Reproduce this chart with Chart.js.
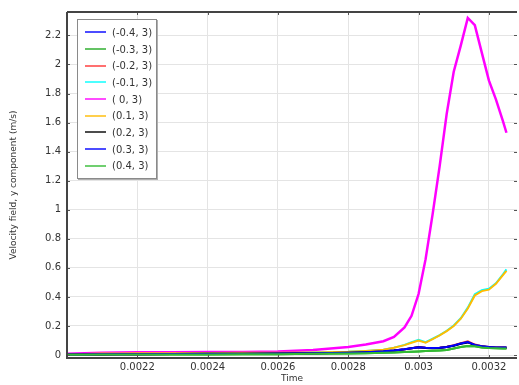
<!DOCTYPE html>
<html>
<head>
<meta charset="utf-8">
<script src="https://cdn.jsdelivr.net/npm/chart.js@4.4.0/dist/chart.umd.min.js"></script>
<style>
  body { margin: 0; background: #fff; }
  #wrap { position: relative; width: 519px; height: 385px; }
  #legend {
    position: absolute; left: 77px; top: 19px; width: 80px; height: 160px;
    background: #fff; border: 1px solid #8a8a8a; box-shadow: 1px 1px 0 #b0b0b0;
    font-family: "DejaVu Sans", sans-serif; font-size: 10px; color: #333;
    box-sizing: border-box; padding-top: 4px;
  }
  .item { height: 16.7px; display: flex; align-items: center; }
  .swatch { width: 21px; height: 2px; margin-left: 7px; margin-right: 6px; opacity: 0.7; }
</style>
</head>
<body>
<div id="wrap">
  <canvas id="myGraph" width="519" height="385"></canvas>
  <div id="legend"></div>
</div>
<script>
/* DATOS */
const tiempos = [0.002, 0.00205, 0.0021, 0.00215, 0.0022, 0.0023, 0.0024, 0.0025, 0.0026, 0.0027,
  0.0028, 0.00285, 0.0029, 0.00293, 0.00296, 0.00298, 0.003, 0.00302, 0.00304, 0.00306,
  0.00308, 0.0031, 0.00312, 0.00314, 0.00316, 0.00318, 0.0032, 0.00322, 0.00324, 0.00325];

const etiquetas = ["(-0.4, 3)", "(-0.3, 3)", "(-0.2, 3)", "(-0.1, 3)", "( 0, 3)",
  "(0.1, 3)", "(0.2, 3)", "(0.3, 3)", "(0.4, 3)"];
const colores = ["#0000ff", "#22aa22", "#ff3333", "#00ffff", "#ff00ff",
  "#ffbb00", "#000000", "#0000ff", "#33bb33"];

const serieM04 = [0.003, 0.004, 0.005, 0.005, 0.006, 0.007, 0.008, 0.009, 0.01, 0.012,
  0.016, 0.02, 0.026, 0.032, 0.04, 0.047, 0.054, 0.05, 0.048, 0.05,
  0.056, 0.065, 0.079, 0.089, 0.07, 0.06, 0.055, 0.052, 0.052, 0.052];
const serieM03 = [0.002, 0.002, 0.003, 0.003, 0.003, 0.004, 0.004, 0.005, 0.006, 0.008,
  0.01, 0.012, 0.015, 0.018, 0.021, 0.023, 0.025, 0.028, 0.03, 0.032,
  0.035, 0.045, 0.055, 0.062, 0.06, 0.052, 0.048, 0.046, 0.045, 0.045];
const serieM02 = [0.003, 0.004, 0.005, 0.005, 0.006, 0.007, 0.008, 0.009, 0.01, 0.012,
  0.016, 0.02, 0.026, 0.032, 0.04, 0.047, 0.055, 0.05, 0.048, 0.05,
  0.057, 0.067, 0.082, 0.095, 0.072, 0.06, 0.055, 0.052, 0.052, 0.052];
const serieM01 = [0.005, 0.007, 0.01, 0.011, 0.012, 0.013, 0.014, 0.015, 0.016, 0.018,
  0.022, 0.028, 0.037, 0.051, 0.07, 0.088, 0.104, 0.088, 0.112, 0.137,
  0.167, 0.203, 0.253, 0.326, 0.418, 0.446, 0.456, 0.494, 0.556, 0.59];
const serie00 = [0.008, 0.012, 0.015, 0.018, 0.019, 0.02, 0.021, 0.021, 0.025, 0.035,
  0.055, 0.072, 0.095, 0.125, 0.19, 0.27, 0.42, 0.66, 0.97, 1.3,
  1.66, 1.95, 2.13, 2.32, 2.27, 2.08, 1.89, 1.76, 1.61, 1.53];
const serieP01 = [0.005, 0.007, 0.01, 0.011, 0.012, 0.013, 0.014, 0.015, 0.016, 0.018,
  0.022, 0.028, 0.036, 0.05, 0.068, 0.085, 0.1, 0.085, 0.11, 0.135,
  0.165, 0.2, 0.25, 0.32, 0.41, 0.44, 0.45, 0.49, 0.55, 0.58];
const serieP02 = [0.003, 0.004, 0.004, 0.005, 0.006, 0.007, 0.008, 0.009, 0.01, 0.012,
  0.015, 0.019, 0.025, 0.031, 0.039, 0.046, 0.053, 0.049, 0.047, 0.049,
  0.055, 0.064, 0.078, 0.087, 0.068, 0.058, 0.054, 0.051, 0.051, 0.051];
const serieP03 = [0.003, 0.004, 0.005, 0.005, 0.006, 0.007, 0.008, 0.009, 0.01, 0.012,
  0.016, 0.02, 0.026, 0.032, 0.04, 0.047, 0.054, 0.05, 0.048, 0.05,
  0.056, 0.066, 0.08, 0.09, 0.07, 0.06, 0.055, 0.052, 0.052, 0.052];
const serieP04 = [0.002, 0.002, 0.003, 0.003, 0.003, 0.004, 0.004, 0.005, 0.006, 0.008,
  0.01, 0.012, 0.015, 0.018, 0.021, 0.023, 0.025, 0.028, 0.03, 0.032,
  0.035, 0.045, 0.055, 0.062, 0.06, 0.052, 0.048, 0.046, 0.045, 0.045];

const series = [serieM04, serieM03, serieM02, serieM01, serie00, serieP01, serieP02, serieP03, serieP04];

const xTicks = [0.0022, 0.0024, 0.0026, 0.0028, 0.003, 0.0032];
const xTickLabels = ["0.0022", "0.0024", "0.0026", "0.0028", "0.003", "0.0032"];
const yTicks = [0, 0.2, 0.4, 0.6, 0.8, 1, 1.2, 1.4, 1.6, 1.8, 2, 2.2];
const yTickLabels = ["0", "0.2", "0.4", "0.6", "0.8", "1", "1.2", "1.4", "1.6", "1.8", "2", "2.2"];

/* MARCO Y TICKS HACIA ADENTRO */
const marco = {
  id: "marco",
  afterDatasetsDraw(chart) {
    const { ctx, chartArea: a, scales } = chart;
    ctx.save();
    ctx.strokeStyle = "#555";
    ctx.lineWidth = 1;
    ctx.beginPath();
    xTicks.forEach((v) => {
      const px = Math.round(scales.x.getPixelForValue(v)) + 0.5;
      ctx.moveTo(px, a.bottom); ctx.lineTo(px, a.bottom - 3);
      ctx.moveTo(px, a.top); ctx.lineTo(px, a.top + 3);
    });
    yTicks.forEach((v) => {
      const py = Math.round(scales.y.getPixelForValue(v)) + 0.5;
      ctx.moveTo(a.left, py); ctx.lineTo(a.left + 3, py);
      ctx.moveTo(a.right, py); ctx.lineTo(a.right - 3, py);
    });
    ctx.stroke();
    ctx.lineWidth = 2;
    ctx.strokeStyle = "#444";
    ctx.beginPath();
    ctx.moveTo(a.left, a.top); ctx.lineTo(a.right, a.top);
    ctx.moveTo(a.left, a.top); ctx.lineTo(a.left, a.bottom);
    ctx.lineTo(a.right, a.bottom);
    ctx.stroke();
    ctx.restore();
  }
};

/* Chart.js dibuja arriba el de menor "order": la ultima serie queda encima */
const datasets = series.map((valores, i) => ({
  label: etiquetas[i],
  data: valores.map((v, j) => ({ x: tiempos[j], y: v })),
  borderColor: colores[i],
  backgroundColor: colores[i],
  borderWidth: i === 4 ? 2.5 : 2,
  pointRadius: 0,
  tension: 0,
  fill: false,
  order: series.length - i
}));

const fuente = { family: "'DejaVu Sans', sans-serif", size: 10 };

const config = {
  type: "line",
  data: { datasets: datasets },
  options: {
    responsive: false,
    devicePixelRatio: 1,
    animation: false,
    layout: { padding: { top: 8, right: 2, left: 0, bottom: 0 } },
    plugins: { legend: { display: false }, tooltip: { enabled: false } },
    scales: {
      x: {
        type: "linear",
        min: 0.002,
        max: 0.00328,
        afterBuildTicks: (s) => { s.ticks = xTicks.map((v) => ({ value: v })); },
        afterFit: (s) => { s.height = 27; },
        grid: { color: "#e4e4e4", drawTicks: false },
        border: { display: false },
        ticks: {
          color: "#333", font: fuente, padding: 3, maxRotation: 0,
          callback: (v) => xTickLabels[xTicks.findIndex((t) => Math.abs(t - v) < 1e-9)]
        },
        title: { display: true, text: "Time", color: "#333", font: { family: "'DejaVu Sans', sans-serif", size: 9 }, padding: { top: 0, bottom: 1 } }
      },
      y: {
        min: -0.0204,
        max: 2.361,
        afterBuildTicks: (s) => { s.ticks = yTicks.map((v) => ({ value: v })); },
        afterFit: (s) => { s.width = 67; },
        grid: { color: "#e4e4e4", drawTicks: false },
        border: { display: false },
        ticks: {
          color: "#333", font: fuente, padding: 6,
          callback: (v) => yTickLabels[yTicks.findIndex((t) => Math.abs(t - v) < 1e-9)]
        },
        title: { display: true, text: "Velocity field, y component (m/s)", color: "#333", font: { family: "'DejaVu Sans', sans-serif", size: 9 }, padding: { top: 8, bottom: 0 } }
      }
    }
  },
  plugins: [marco]
};

const chart = new Chart(document.getElementById("myGraph"), config);

/* LEYENDA */
const legend = document.getElementById("legend");
etiquetas.forEach((et, i) => {
  const item = document.createElement("div");
  item.className = "item";
  item.innerHTML = `<span class="swatch" style="background:${colores[i]}"></span><span>${et}</span>`;
  legend.appendChild(item);
});
</script>
</body>
</html>
